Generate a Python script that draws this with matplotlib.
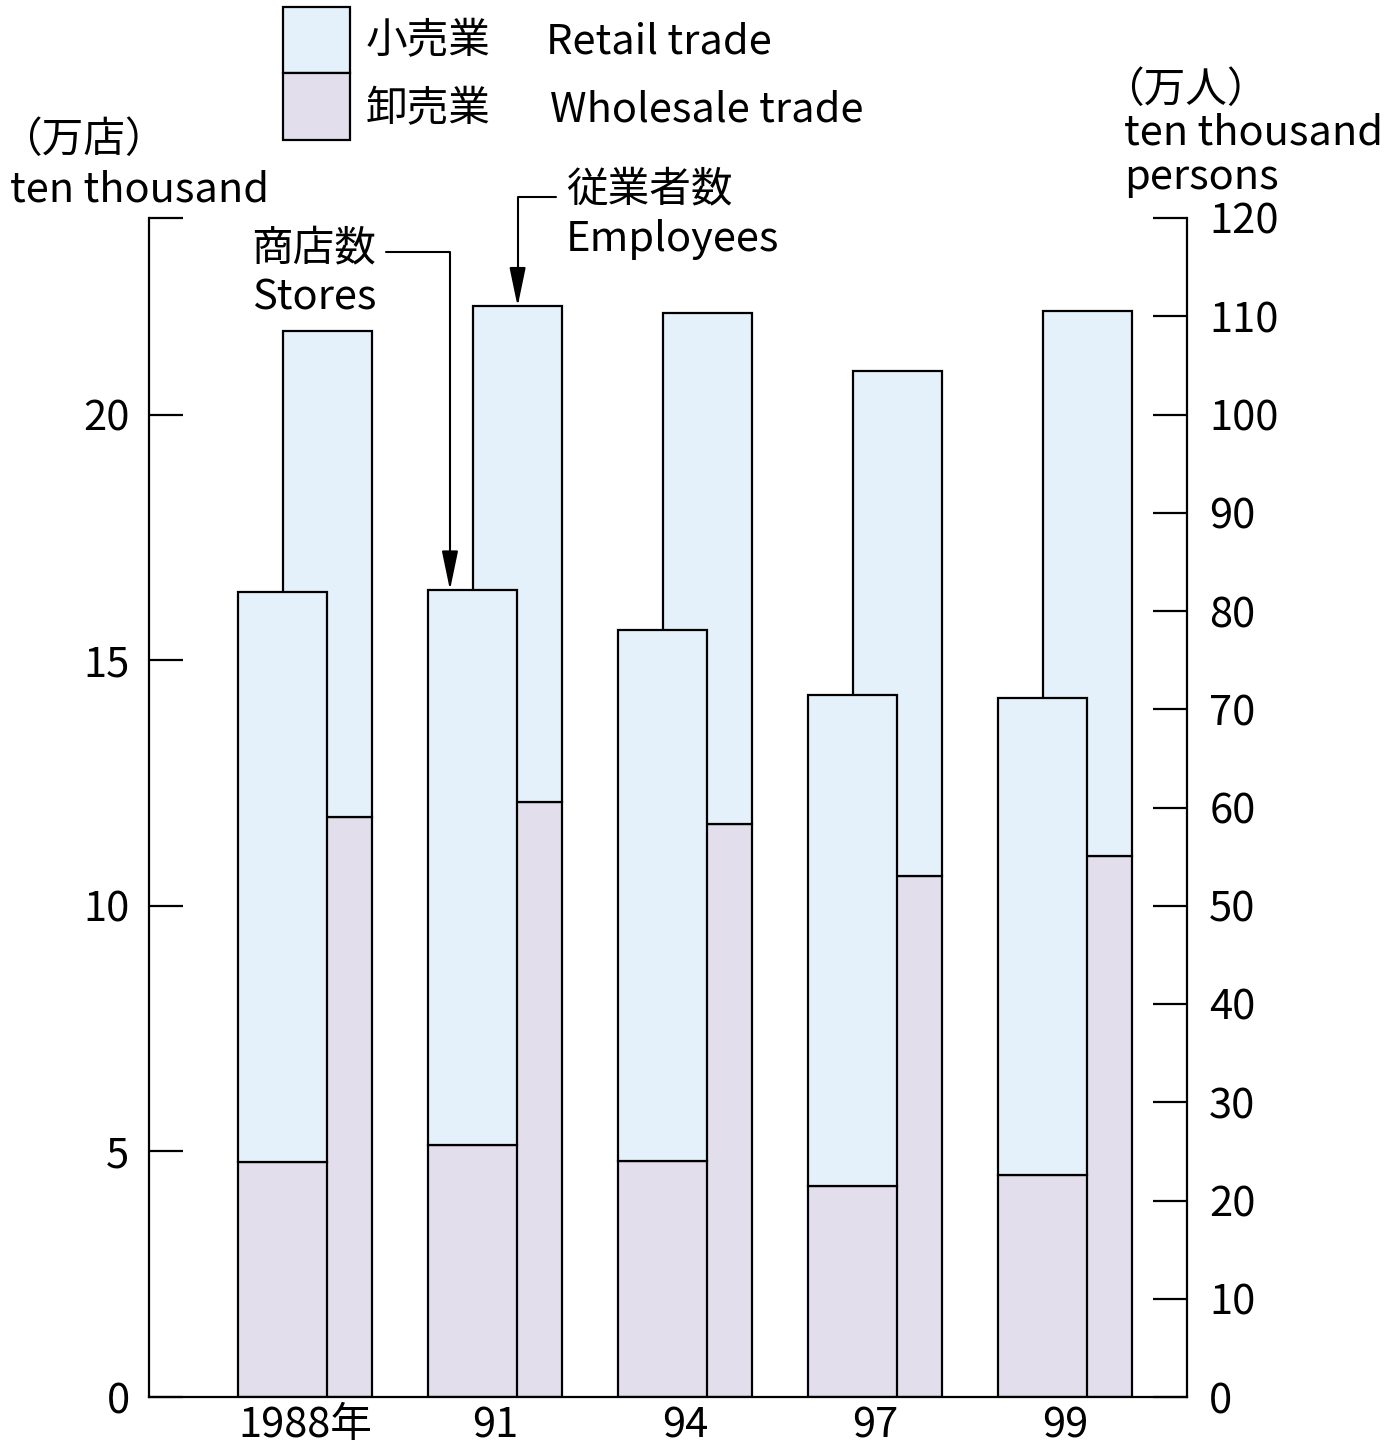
import matplotlib
matplotlib.use('Agg')
import numpy as np
import matplotlib.pyplot as plt
from matplotlib.patches import Rectangle

plt.rcParams['font.family'] = ['Noto Sans CJK JP', 'DejaVu Sans']

# data
years = ['1988年', '91', '94', '97', '99']
stores_wholesale = [4.79, 5.12, 4.81, 4.30, 4.51]       # 万店
stores_retail = [11.60, 11.31, 10.81, 9.99, 9.72]
emp_wholesale = [59.0, 60.6, 58.3, 53.0, 55.1]          # 万人
emp_retail = [49.5, 50.4, 52.0, 51.4, 55.4]

c_retail = '#e4f1fa'
c_whole = '#e3deec'
lw = 1.6
fs = 30

W, H = 1396, 1451
fig = plt.figure(figsize=(W / 100, H / 100), dpi=100)

def fx(px):
    return px / W

def fy(py):
    return 1 - py / H

ax = fig.add_axes([fx(149), fy(1397), fx(1187) - fx(149), fy(218) - fy(1397)])
ax2 = ax.twinx()
# stores bars in front of employee bars
ax.set_zorder(ax2.get_zorder() + 1)
ax.patch.set_visible(False)

x = np.arange(len(years))
w = 0.47
off = 0.237

stores_total = np.array(stores_wholesale) + np.array(stores_retail)
emp_total = np.array(emp_wholesale) + np.array(emp_retail)

ax.bar(x, stores_wholesale, w, color=c_whole, edgecolor='black', linewidth=lw)
ax.bar(x, stores_retail, w, bottom=stores_wholesale, color=c_retail, edgecolor='black', linewidth=lw)
ax2.bar(x + off, emp_wholesale, w, color=c_whole, edgecolor='black', linewidth=lw)
ax2.bar(x + off, emp_retail, w, bottom=emp_wholesale, color=c_retail, edgecolor='black', linewidth=lw)

ax.set_xlim(-0.703, 4.76)
ax.set_ylim(0, 24)
ax2.set_ylim(0, 120)

ax.set_yticks([0, 5, 10, 15, 20, 24])
ax.set_yticklabels(['0', '5', '10', '15', '20', ''])
ax2.set_yticks(range(0, 121, 10))
ax.set_xticks(x + 0.118)
ax.set_xticklabels(years)

ax.tick_params(axis='y', direction='in', length=24.5, width=lw, pad=14, labelsize=fs)
ax2.tick_params(axis='y', direction='in', length=24.5, width=lw, pad=16, labelsize=fs)
ax.tick_params(axis='x', length=0, pad=6, labelsize=fs)

for s in ['top', 'right']:
    ax.spines[s].set_visible(False)
for s in ['top', 'left', 'bottom']:
    ax2.spines[s].set_visible(False)
for s in ['left', 'bottom']:
    ax.spines[s].set_linewidth(lw)
ax2.spines['right'].set_linewidth(lw)

# legend boxes
fig.add_artist(Rectangle((fx(283), fy(73)), fx(350) - fx(283), fy(7) - fy(73),
                         transform=fig.transFigure, facecolor=c_retail, edgecolor='black', linewidth=lw))
fig.add_artist(Rectangle((fx(283), fy(140)), fx(350) - fx(283), fy(73) - fy(140),
                         transform=fig.transFigure, facecolor=c_whole, edgecolor='black', linewidth=lw))
fig.text(fx(366), fy(42), '小売業', fontsize=fs, va='center')
fig.text(fx(546), fy(42), 'Retail trade', fontsize=fs, va='center')
fig.text(fx(366), fy(110), '卸売業', fontsize=fs, va='center')
fig.text(fx(550), fy(110), 'Wholesale trade', fontsize=fs, va='center')

# axis unit labels
fig.text(fx(0), fy(140), '（万店）', fontsize=fs, va='center')
fig.text(fx(10), fy(190), 'ten thousand', fontsize=fs, va='center')
fig.text(fx(1102), fy(90), '（万人）', fontsize=fs, va='center')
fig.text(fx(1124), fy(133), 'ten thousand', fontsize=fs, va='center')
fig.text(fx(1124), fy(178), 'persons', fontsize=fs, va='center')

# callouts
fig.text(fx(314), fy(250), '商店数', fontsize=fs, va='center', ha='center')
fig.text(fx(314), fy(298), 'Stores', fontsize=fs, va='center', ha='center')
fig.text(fx(566), fy(190), '従業者数', fontsize=fs, va='center')
fig.text(fx(566), fy(240), 'Employees', fontsize=fs, va='center')

arrow = dict(arrowstyle='-|>,head_length=1.2,head_width=0.25',
             connectionstyle='angle,angleA=0,angleB=90,rad=0',
             color='black', lw=1.5, shrinkA=0, shrinkB=0, mutation_scale=20)
ax.annotate('', xy=(1 - w / 2 + 0.116, stores_total[1]), xytext=(386, H - 252),
            textcoords='figure pixels', arrowprops=arrow)
ax2.annotate('', xy=(1 + off, emp_total[1]), xytext=(556, H - 197),
             textcoords='figure pixels', arrowprops=arrow)

fig.savefig('out.png', dpi=100)
